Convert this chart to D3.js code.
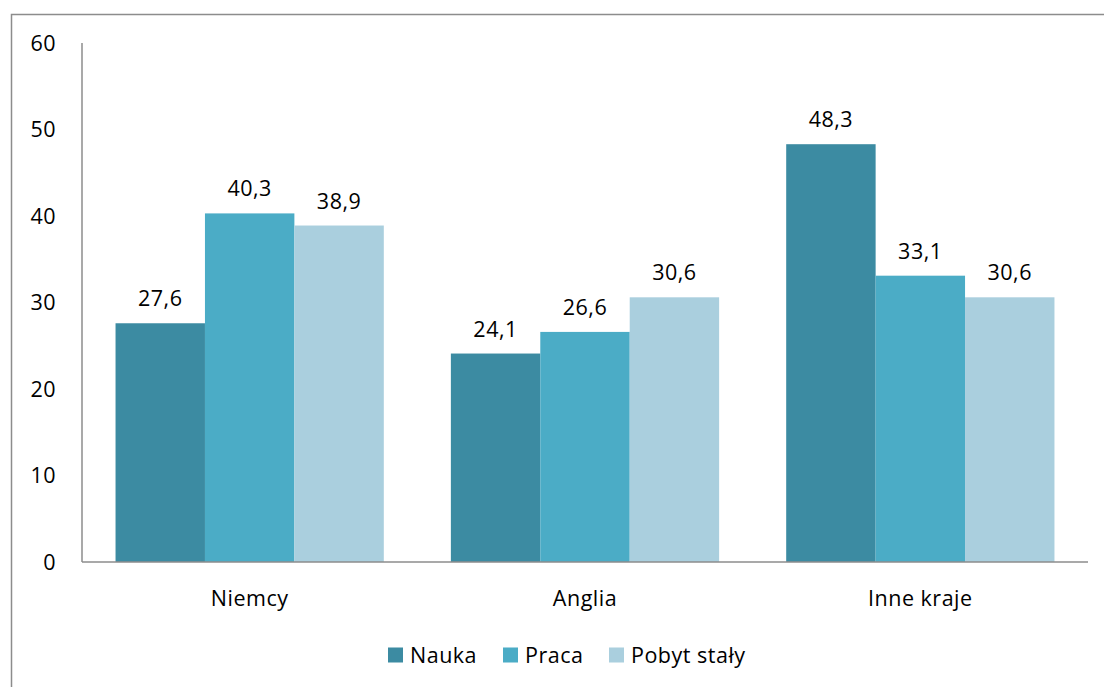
<!DOCTYPE html>
<html>
<head>
<meta charset="utf-8">
<script src="https://cdn.jsdelivr.net/npm/d3@7"></script>
<style>
  html, body { margin: 0; padding: 0; background: #fff; }
  svg { display: block; }
  text { font-family: "Open Sans", "DejaVu Sans", sans-serif; fill: #000; font-size: 21.5px; letter-spacing: 0.5px; }
</style>
</head>
<body>
<svg id="chart" width="1104" height="687"></svg>
<script>
// Data
const categories = ["Niemcy", "Anglia", "Inne kraje"];
const seriesNames = ["Nauka", "Praca", "Pobyt stały"];
const nauka = [27.6, 24.1, 48.3];
const praca = [40.3, 26.6, 33.1];
const pobytStaly = [38.9, 30.6, 30.6];
const yTicks = [0, 10, 20, 30, 40, 50, 60];
const colors = ["#3C8BA2", "#4BACC6", "#AACFDE"];

const seriesValues = [nauka, praca, pobytStaly];

const svg = d3.select("#chart");
const W = 1104, H = 687;

// Outer frame (extends past the right/bottom edges)
svg.append("rect")
  .attr("x", 11.5).attr("y", 14.5)
  .attr("width", W).attr("height", H)
  .attr("fill", "none").attr("stroke", "#8c8c8c").attr("stroke-width", 1.5);

const plot = { left: 82, right: 1088, top: 43, bottom: 562 };

const x = d3.scaleBand().domain(categories).range([plot.left, plot.right]).paddingInner(0).paddingOuter(0);
const xInner = d3.scaleBand().domain(seriesNames).range([0, x.bandwidth()]).paddingInner(0).paddingOuter(0.375);
const y = d3.scaleLinear().domain([0, 60]).range([plot.bottom, plot.top]);

// Y tick labels
svg.append("g").selectAll("text")
  .data(yTicks).join("text")
  .attr("x", 56)
  .attr("y", d => y(d))
  .attr("dy", "0.35em")
  .attr("text-anchor", "end")
  .text(d => d);

// Bars
const rows = [];
categories.forEach((c, i) => {
  seriesNames.forEach((s, j) => {
    rows.push({ cat: c, ser: s, j, v: seriesValues[j][i] });
  });
});

const fmt = v => d3.format(".1f")(v).replace(".", ",");

svg.append("g").selectAll("rect")
  .data(rows).join("rect")
  .attr("x", d => x(d.cat) + xInner(d.ser))
  .attr("y", d => y(d.v))
  .attr("width", xInner.bandwidth())
  .attr("height", d => y(0) - y(d.v))
  .attr("fill", d => colors[d.j]);

// Value labels
svg.append("g").selectAll("text")
  .data(rows).join("text")
  .attr("x", d => x(d.cat) + xInner(d.ser) + xInner.bandwidth() / 2)
  .attr("y", d => y(d.v) - 17)
  .attr("text-anchor", "middle")
  .text(d => fmt(d.v));

// Axes lines
svg.append("line")
  .attr("x1", plot.left).attr("x2", plot.left)
  .attr("y1", plot.top).attr("y2", plot.bottom)
  .attr("stroke", "#8c8c8c").attr("stroke-width", 1.5);
svg.append("line")
  .attr("x1", plot.left).attr("x2", plot.right)
  .attr("y1", plot.bottom).attr("y2", plot.bottom)
  .attr("stroke", "#8c8c8c").attr("stroke-width", 1.5);

// Category labels
svg.append("g").selectAll("text")
  .data(categories).join("text")
  .attr("x", d => x(d) + x.bandwidth() / 2)
  .attr("y", 598)
  .attr("dy", "0.35em")
  .attr("text-anchor", "middle")
  .text(d => d);

// Legend
const legendX = [388, 503, 609];
const legend = svg.append("g").selectAll("g")
  .data(seriesNames).join("g")
  .attr("transform", (d, i) => `translate(${legendX[i]},655)`);
legend.append("rect")
  .attr("x", 0).attr("y", -7.5)
  .attr("width", 15).attr("height", 15)
  .attr("fill", (d, i) => colors[i]);
legend.append("text")
  .attr("x", 22).attr("y", 0)
  .attr("dy", "0.35em")
  .text(d => d);
</script>
</body>
</html>
